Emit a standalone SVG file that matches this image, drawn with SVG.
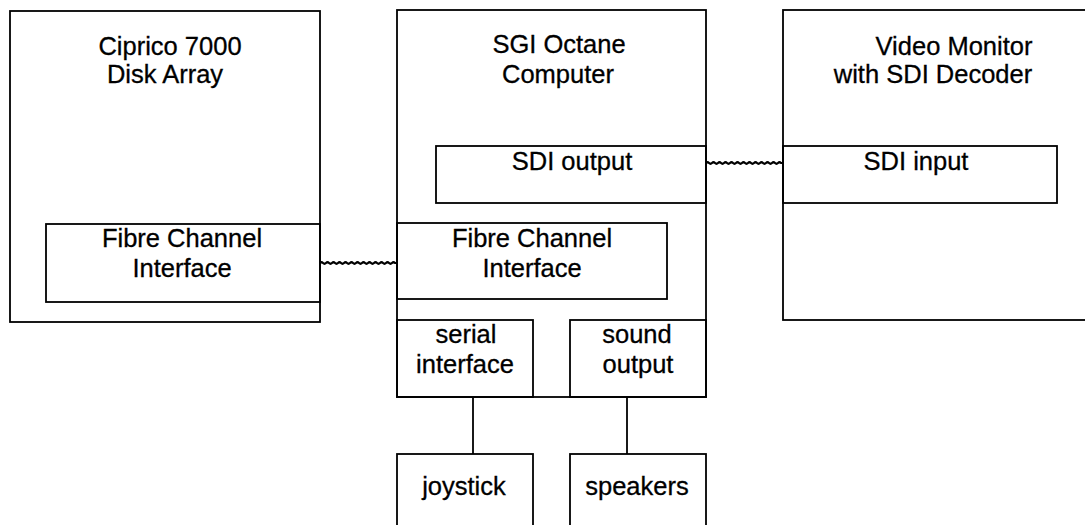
<svg xmlns="http://www.w3.org/2000/svg" width="1085" height="525" viewBox="0 0 1085 525">
<style>
rect{fill:none;stroke:#000;stroke-width:1.8}
.c{fill:none;stroke:#000;stroke-width:1.8}
.w{fill:none;stroke:#000;stroke-width:2.2}
text{font-family:"Liberation Sans",Arial,sans-serif;font-size:25.5px;fill:#000;stroke:#000;stroke-width:0.3;text-anchor:middle}
</style>
<rect x="0" y="0" width="1085" height="525" style="fill:#fff;stroke:none"/>
<g id="disk-array">
<rect x="10" y="11" width="310" height="311"/>
<text x="170" y="55">Ciprico 7000</text>
<text x="165" y="83">Disk Array</text>
</g>
<g id="disk-fc">
<rect x="46" y="224" width="274" height="78"/>
<text x="182" y="247">Fibre Channel</text>
<text x="182" y="277">Interface</text>
</g>
<g id="octane">
<rect x="397" y="10" width="309" height="387"/>
<text x="559" y="53">SGI Octane</text>
<text x="558" y="83">Computer</text>
</g>
<g id="sdi-output">
<rect x="436" y="146" width="270" height="57"/>
<text x="572" y="170">SDI output</text>
</g>
<g id="octane-fc">
<rect x="397" y="223" width="270" height="76"/>
<text x="532" y="247">Fibre Channel</text>
<text x="532" y="277">Interface</text>
</g>
<g id="serial">
<rect x="397" y="320" width="136" height="77"/>
<text x="466" y="343">serial</text>
<text x="465" y="373">interface</text>
</g>
<g id="sound">
<rect x="570" y="320" width="136" height="77"/>
<text x="637" y="343">sound</text>
<text x="638" y="373">output</text>
</g>
<g id="monitor">
<rect x="783" y="10" width="320" height="310"/>
<text x="954" y="55">Video Monitor</text>
<text x="933" y="83">with SDI Decoder</text>
</g>
<g id="sdi-input">
<rect x="783" y="146" width="274" height="57"/>
<text x="916" y="170">SDI input</text>
</g>
<g id="joystick">
<rect x="397" y="454" width="136" height="90"/>
<text x="464" y="495">joystick</text>
</g>
<g id="speakers">
<rect x="570" y="454" width="136" height="90"/>
<text x="637" y="495">speakers</text>
</g>
<g id="connectors">
<path class="w" d="M320 263 q1.5 -1.5 3 0 t3 0 t3 0 t3 0 t3 0 t3 0 t3 0 t3 0 t3 0 t3 0 t3 0 t3 0 t3 0 t3 0 t3 0 t3 0 t3 0 t3 0 t3 0 t3 0 t3 0 t3 0 t3 0 t3 0 t3 0 L397 263"/>
<path class="w" d="M706 163 q1.5 -1.5 3 0 t3 0 t3 0 t3 0 t3 0 t3 0 t3 0 t3 0 t3 0 t3 0 t3 0 t3 0 t3 0 t3 0 t3 0 t3 0 t3 0 t3 0 t3 0 t3 0 t3 0 t3 0 t3 0 t3 0 t3 0 L783 163"/>
<line class="c" x1="473" y1="397" x2="473" y2="454"/>
<line class="c" x1="627" y1="397" x2="627" y2="454"/>
</g>
</svg>
